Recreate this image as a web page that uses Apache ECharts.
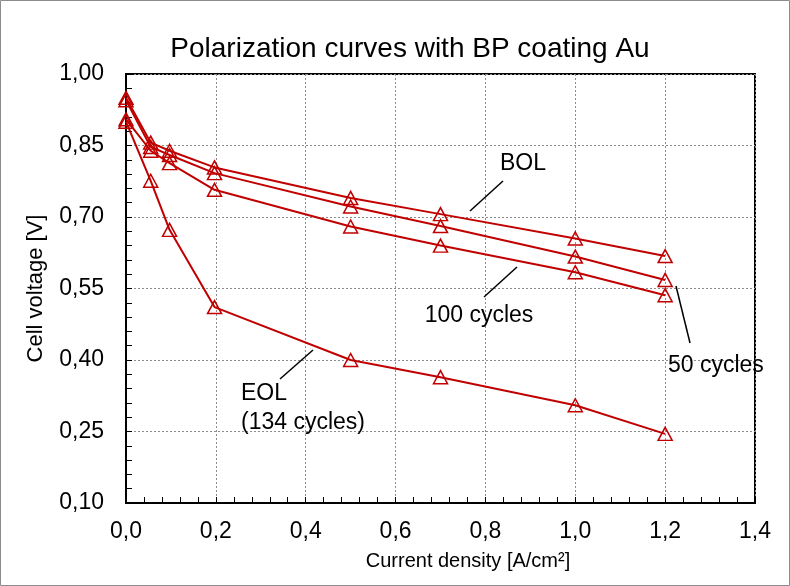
<!DOCTYPE html>
<html>
<head>
<meta charset="utf-8">
<script src="https://cdn.jsdelivr.net/npm/echarts@6/dist/echarts.min.js"></script>
<style>
  html, body { margin: 0; padding: 0; background: #fff; }
  #chart { width: 790px; height: 586px; }
</style>
</head>
<body>
<div id="chart"></div>
<script>
// current density [A/cm²]
const currentDensity = [0, 0.055, 0.097, 0.197, 0.5, 0.7, 1.0, 1.2]
// cell voltage [V]
const bolVolt = [0.950, 0.856, 0.839, 0.804, 0.740, 0.706, 0.655, 0.618]
const cyc50Volt = [0.945, 0.847, 0.830, 0.792, 0.722, 0.681, 0.617, 0.568]
const cyc100Volt = [0.905, 0.839, 0.813, 0.757, 0.680, 0.640, 0.584, 0.536]
const eolVolt = [0.900, 0.776, 0.673, 0.511, 0.400, 0.364, 0.305, 0.245]

const seriesNames = ['BOL', '50 cycles', '100 cycles', 'EOL (134 cycles)']
const seriesValues = [bolVolt, cyc50Volt, cyc100Volt, eolVolt]

const RED = '#c00000'
const FONT = 'Liberation Sans, Arial, sans-serif'

//把x和y拼成坐标对
function toPairs(ys) {
  return currentDensity.map((x, i) => [x, ys[i]])
}

function comma(v, d) {
  return v.toFixed(d).replace('.', ',')
}

const chart = echarts.init(document.getElementById('chart'), null, { renderer: 'canvas' })

const series = seriesValues.map((ys, i) => ({
  name: seriesNames[i],
  type: 'line',
  data: toPairs(ys),
  symbol: 'triangle',
  symbolSize: [14, 13],
  showAllSymbol: true,
  lineStyle: { color: RED, width: 2 },
  itemStyle: { color: 'rgba(0,0,0,0)', borderColor: RED, borderWidth: 1.5 },
  emphasis: { disabled: true },
  z: 3
}))

function label(text, x, y, align, size) {
  return {
    type: 'text', x: x, y: y, z: 10,
    style: {
      text: text, fill: '#000', font: (size || 23) + 'px ' + FONT,
      textAlign: align || 'center', textVerticalAlign: 'middle', lineHeight: 29
    }
  }
}
function pointer(x1, y1, x2, y2) {
  return {
    type: 'line', z: 10,
    shape: { x1: x1, y1: y1, x2: x2, y2: y2 },
    style: { stroke: '#000', lineWidth: 1.5 }
  }
}

const option = {
  backgroundColor: '#fff',
  animation: false,
  title: {
    text: 'Polarization curves with BP coating Au',
    left: 405, top: 30, textAlign: 'center',
    textStyle: { fontFamily: FONT, fontSize: 28, fontWeight: 'normal', color: '#000' }
  },
  grid: {
    left: 126, right: 35, top: 74, bottom: 83,
    show: true, borderColor: '#000', borderWidth: 2
  },
  xAxis: {
    type: 'value', min: 0, max: 1.4, interval: 0.2,
    axisLine: { onZero: false, lineStyle: { color: '#000', width: 2 } },
    axisTick: { inside: true, length: 6, lineStyle: { color: '#000', width: 1 } },
    minorTick: { show: true, splitNumber: 5, length: 6, lineStyle: { color: '#000', width: 1 } },
    axisLabel: { margin: 17, fontFamily: FONT, fontSize: 23, color: '#000', formatter: v => comma(v, 1) },
    splitLine: { show: true, lineStyle: { color: '#8c8c8c', width: 1, type: [2, 2] } }
  },
  yAxis: {
    type: 'value', min: 0.1, max: 1.0, interval: 0.15,
    name: 'Cell voltage [V]', nameLocation: 'middle', nameGap: 79,
    nameTextStyle: { fontFamily: FONT, fontSize: 22, color: '#000' },
    axisLine: { onZero: false, lineStyle: { color: '#000', width: 2 } },
    axisTick: { inside: true, length: 6, lineStyle: { color: '#000', width: 1 } },
    minorTick: { show: true, splitNumber: 5, length: 6, lineStyle: { color: '#000', width: 1 } },
    axisLabel: { margin: 22, fontFamily: FONT, fontSize: 23, color: '#000', formatter: v => comma(v, 2) },
    splitLine: { show: true, lineStyle: { color: '#8c8c8c', width: 1, type: [2, 2] } }
  },
  series: series,
  graphic: [
    {
      type: 'rect', z: 0, silent: true,
      shape: { x: 0.5, y: 0.5, width: 789, height: 585 },
      style: { fill: null, stroke: '#8c8c8c', lineWidth: 1 }
    },
    // x轴标题，原图略偏右
    label('Current density [A/cm²]', 468, 561, 'center', 20),
    pointer(470, 211, 503, 181),
    label('BOL', 523, 164),
    pointer(484, 297, 517, 267),
    label('100 cycles', 479, 316),
    pointer(676, 286, 690, 343),
    label('50 cycles', 668, 366, 'left'),
    pointer(280, 379, 313, 350),
    label('EOL\n(134 cycles)', 241, 408, 'left')
  ]
}

chart.setOption(option)
</script>
</body>
</html>
